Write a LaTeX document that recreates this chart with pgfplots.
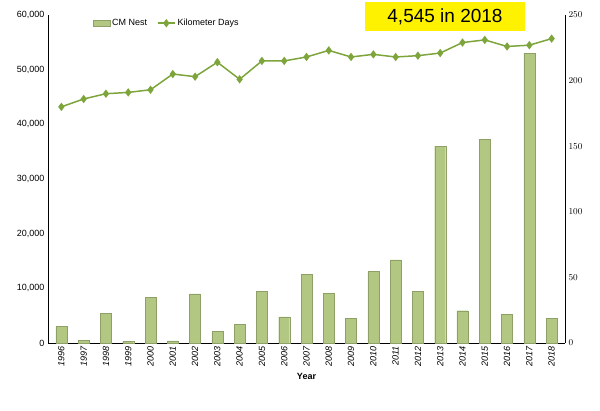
\documentclass[border=0pt]{standalone}
\usepackage{pgfplots}
\pgfplotsset{compat=1.18}
\usepackage{fontspec}
\setmainfont{Liberation Sans}
\definecolor{barg}{RGB}{178,200,130}
\definecolor{lineg}{RGB}{125,165,60}
\begin{document}
\begin{tikzpicture}
\useasboundingbox (0pt,0pt) rectangle (600pt,410pt);
\begin{axis}[at={(48pt,67pt)},anchor=south west,scale only axis,width=517pt,height=328pt,
  xmin=-0.6,xmax=22.6,ymin=0,ymax=60000,
  axis y line*=left, axis x line*=bottom,
  xtick={0,...,22},
  xticklabels={1996,1997,1998,1999,2000,2001,2002,2003,2004,2005,2006,2007,2008,2009,2010,2011,2012,2013,2014,2015,2016,2017,2018},
  xticklabel style={rotate=90,anchor=east,font=\small\itshape},
  ytick={0,10000,...,60000},
  scaled y ticks=false,
  /pgf/number format/assume math mode=true,
  yticklabel style={font=\small,/pgf/number format/1000 sep={,}},
  xlabel={\textbf{Year}},xlabel style={font=\small},
  major tick length=0pt,
  legend style={at={(0.08,1.0)},anchor=north west,draw=none,fill=none,font=\small,legend columns=2,/tikz/every even column/.append style={column sep=8pt}},
  clip=false]
\addplot[ybar,bar width=11pt,fill=barg,draw=barg!80!black,area legend] coordinates {(0,3000)(1,500)(2,5400)(3,300)(4,8400)(5,400)(6,9000)(7,2100)(8,3400)(9,9500)(10,4800)(11,12500)(12,9100)(13,4500)(14,13100)(15,15200)(16,9500)(17,36000)(18,5900)(19,37200)(20,5300)(21,53000)(22,4545)};
\addlegendentry{CM Nest}
\addlegendimage{lineg,line width=1.5pt,mark=diamond*,mark size=3pt}
\addlegendentry{Kilometer Days}
\end{axis}
\begin{axis}[at={(48pt,67pt)},anchor=south west,scale only axis,width=517pt,height=328pt,
  xmin=-0.6,xmax=22.6,ymin=0,ymax=250,
  axis y line*=right, axis x line=none,
  ytick={0,50,...,250},
  yticklabel style={font=\small},
  major tick length=0pt]
\addplot[lineg,line width=1.5pt,mark=diamond*,mark size=3pt] coordinates {(0,180)(1,186)(2,190)(3,191)(4,193)(5,205)(6,203)(7,214)(8,201)(9,215)(10,215)(11,218)(12,223)(13,218)(14,220)(15,218)(16,219)(17,221)(18,229)(19,231)(20,226)(21,227)(22,232)};
\end{axis}
\node[fill=yellow,inner sep=0pt,minimum width=160pt,minimum height=29pt,font=\fontsize{19}{19}\selectfont] at (445pt,393pt) {4,545 in 2018};
\end{tikzpicture}
\end{document}
